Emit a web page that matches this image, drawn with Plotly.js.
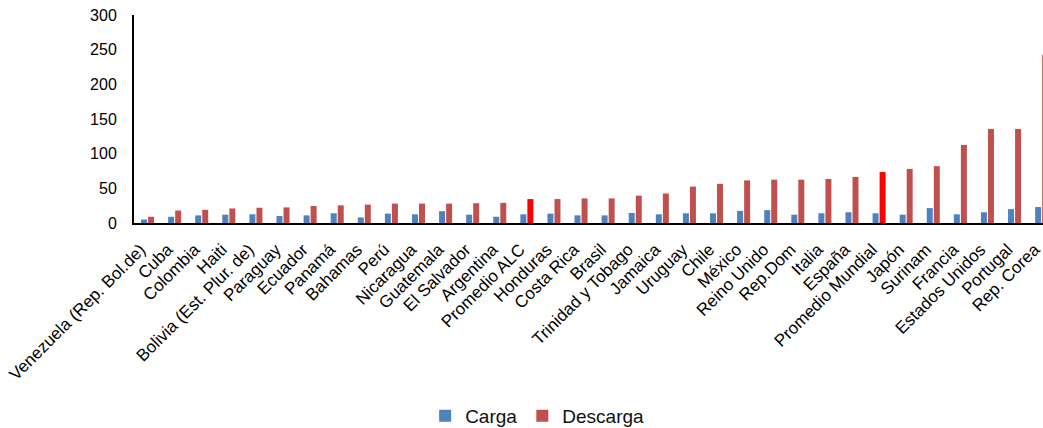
<!DOCTYPE html>
<html>
<head>
<meta charset="utf-8">
<script src="https://cdn.plot.ly/plotly-3.0.1.min.js"></script>
<style>html,body{margin:0;padding:0;background:#fff;}#chart{width:1043px;height:428px;}</style>
</head>
<body>
<div id="chart"></div>
<script>
const categories = ["Venezuela (Rep. Bol.de)", "Cuba", "Colombia", "Haiti", "Bolivia (Est. Plur. de)", "Paraguay", "Ecuador", "Panamá", "Bahamas", "Perú", "Nicaragua", "Guatemala", "El Salvador", "Argentina", "Promedio ALC", "Honduras", "Costa Rica", "Brasil", "Trinidad y Tobago", "Jamaica", "Uruguay", "Chile", "México", "Reino Unido", "Rep.Dom", "Italia", "España", "Promedio Mundial", "Japón", "Surinam", "Francia", "Estados Unidos", "Portugal", "Rep. Corea"];
const carga = [5, 9, 11, 12, 12.5, 10, 11, 14, 8, 13.5, 12.5, 17, 12, 9, 12.5, 13.5, 11, 11, 14.5, 12.5, 14, 14, 17.5, 18.5, 12, 14, 15.5, 14, 12, 21.5, 12.5, 15.5, 20, 23];
const descarga = [9, 18, 19, 21, 22, 22.5, 24.5, 25.5, 26.5, 28, 28, 28, 28.5, 29, 34.5, 34.5, 35.5, 35.5, 39.5, 42.5, 52.5, 56.5, 61.5, 62.5, 62.5, 63.5, 66.5, 73.5, 78, 82, 112.5, 135.5, 135.5, 242.5];
const highlighted = ["Promedio ALC", "Promedio Mundial"];
const yTicks = [0, 50, 100, 150, 200, 250, 300];

const blue = "#4F81BD", red = "#C0504D", bright = "#FF0000";
const descColors = categories.map(c => highlighted.includes(c) ? bright : red);

const fam = "Liberation Sans, Arial, sans-serif";
const font = {family: fam, size: 16, color: "#000"};

Plotly.newPlot("chart", [
  {type: "bar", name: "Carga", x: categories, y: carga, marker: {color: blue}},
  {type: "bar", name: "Descarga", x: categories, y: descarga, marker: {color: descColors}}
], {
  width: 1043, height: 428,
  margin: {l: 134, r: 0, t: 15, b: 205},
  paper_bgcolor: "#fff", plot_bgcolor: "#fff",
  font: font,
  barmode: "group", bargap: 0.48, bargroupgap: 0.15,
  showlegend: true,
  legend: {orientation: "h", xref: "container", yref: "container", x: 0.515, xanchor: "center", y: 0.028, yanchor: "middle", font: {family: fam, size: 19, color: "#111"}, itemwidth: 30, tracegroupgap: 0},
  xaxis: {type: "category", range: [-0.5, 33.05], tickangle: -45, showline: true, linecolor: "#000", linewidth: 2, ticks: "", ticklabelstandoff: 8, ticklabelshift: -7, showgrid: false, zeroline: false, tickfont: {family: fam, size: 17, color: "#000"}, fixedrange: true},
  yaxis: {range: [0, 300], tickvals: yTicks, ticktext: yTicks.map(String), showline: true, linecolor: "#000", linewidth: 2, ticks: "", ticklabelstandoff: 12, showgrid: false, zeroline: false, tickfont: font, fixedrange: true}
}, {staticPlot: true, displayModeBar: false});
</script>
</body>
</html>
